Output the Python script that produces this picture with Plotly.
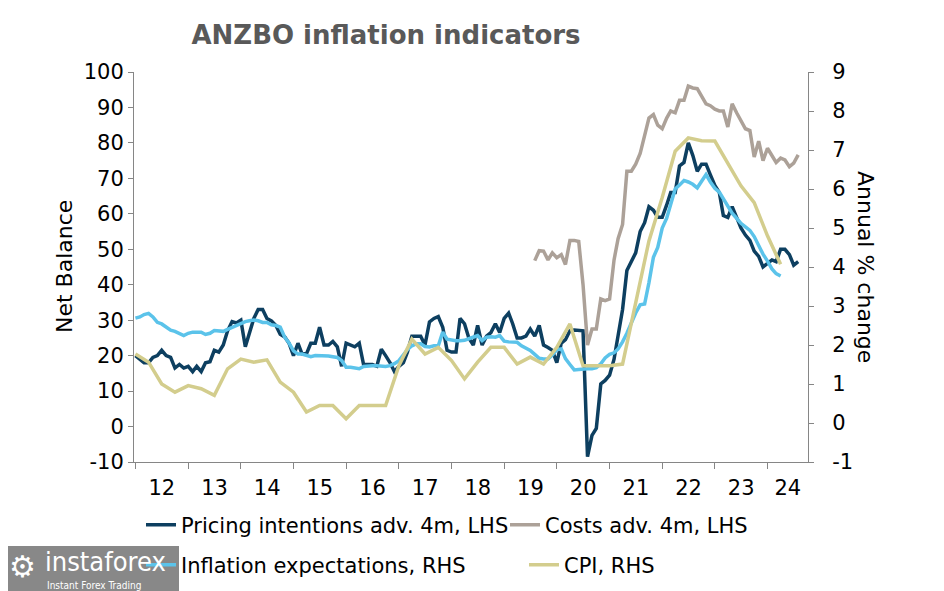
import pandas as pd
import plotly.graph_objects as go

# ---------------- data ----------------
pricing_start = "2012-01-01"   # monthly, Net balance, LHS
pricing = [
    20, 19, 18, 18, 19.5, 20, 21.5, 20, 19.5, 16.5, 17.5, 16.5,
    17, 15.5, 17, 15.5, 18, 18.3, 21.5, 21, 23, 27, 29.6, 29.2,
    30, 22.5, 26.3, 30.5, 33, 33, 30.5, 29.8, 28.5, 26, 25.3, 23.5,
    20, 23.5, 20.5, 20.5, 23.5, 23.5, 28, 23, 23, 24, 22.5, 17,
    23.5, 23, 22.5, 23.5, 17.5, 17.5, 17.5, 17, 21.8, 20, 18, 15.5,
    17, 18, 21, 25.5, 25.5, 25.5, 23, 29.5, 30.5, 31, 28, 21.5,
    21, 21, 30.5, 29, 25, 23, 28.5, 23, 25.5, 26.5, 29, 26.5,
    30.5, 32, 29, 25, 25, 25.5, 27.5, 25.5, 28.5, 23, 22.3, 21.5,
    18, 23.5, 24.5, 27, 27.2, 27.2, 27, -8.5, -2.5, -0.5, 12, 13,
    14.5, 19, 26, 33, 44, 46.5, 49, 55, 57.5, 62, 61, 59,
    59, 62.5, 66, 66, 73.5, 74.5, 80, 76.5, 72, 74, 74, 71,
    68, 66, 59.5, 59, 62, 59, 56, 54, 52.5, 49.5, 48, 45,
    46, 47, 46.5, 50, 50, 48.5, 45.5, 46.5,
]

costs_start = "2019-08-01"     # monthly, Net balance, LHS
costs = [
    46.8, 49.6, 49.5, 47, 49, 47.6, 48.5, 45.7, 52.5, 52.5, 52.2, 40,
    23, 27.5, 27.5, 36, 35.5, 36, 47, 53, 57, 72, 72, 74,
    77, 82, 87, 88, 85, 84, 87, 89, 88.5, 92, 92, 96,
    95.5, 95.3, 93, 91, 90.5, 89.5, 89, 89, 84.5, 91, 88.5, 86.5,
    84, 83.5, 76, 80.5, 75, 78.5, 76.5, 74.5, 75.7, 75.2, 73.3, 74.3,
    76.6,
]

infl_exp_start = "2012-01-01"  # monthly, annual % change, RHS
infl_exp = [
    2.69, 2.72, 2.78, 2.81, 2.72, 2.58, 2.54, 2.45, 2.38, 2.35, 2.30, 2.24,
    2.30, 2.33, 2.33, 2.33, 2.27, 2.30, 2.37, 2.36, 2.35, 2.40, 2.45, 2.52,
    2.57, 2.60, 2.62, 2.64, 2.62, 2.58, 2.58, 2.52, 2.50, 2.46, 2.20, 2.05,
    1.85, 1.77, 1.77, 1.74, 1.70, 1.73, 1.73, 1.73, 1.72, 1.70, 1.68, 1.60,
    1.43, 1.43, 1.42, 1.39, 1.45, 1.47, 1.47, 1.47, 1.46, 1.45, 1.47, 1.52,
    1.60, 1.75, 1.88, 1.98, 2.03, 2.03, 1.96, 1.95, 1.98, 1.98, 2.33, 2.15,
    2.12, 2.11, 2.11, 2.12, 2.16, 2.20, 2.24, 2.11, 2.20, 2.21, 2.20, 2.24,
    2.10, 2.08, 2.07, 2.07, 1.98, 1.92, 1.86, 1.76, 1.66, 1.64, 1.64, 1.74,
    1.88, 1.90, 1.65, 1.50, 1.36, 1.37, 1.39, 1.39, 1.39, 1.42, 1.52, 1.67,
    1.76, 1.80, 1.90, 2.08, 2.30, 2.58, 2.82, 3.03, 3.05, 3.60, 4.25, 4.50,
    5.00, 5.25, 5.60, 6.00, 6.10, 6.22, 6.18, 6.12, 6.03, 6.20, 6.37, 6.18,
    6.02, 5.92, 5.76, 5.56, 5.38, 5.25, 5.12, 5.03, 4.94, 4.78, 4.55, 4.33,
    4.15, 3.95, 3.83, 3.77,
]

cpi_start = "2012-01-01"       # quarterly, annual % change, RHS
cpi = [
    1.77, 1.56, 1.00, 0.79, 0.96, 0.88, 0.71, 1.39, 1.64, 1.56,
    1.62, 1.05, 0.79, 0.28, 0.45, 0.45, 0.11, 0.45, 0.45, 0.45,
    1.47, 2.15, 1.77, 1.94, 1.60, 1.13, 1.56, 1.94, 1.94, 1.51,
    1.69, 1.51, 1.94, 2.54, 1.47, 1.47, 1.47, 1.51, 3.13, 4.67,
    5.78, 6.97, 7.31, 7.24, 7.23, 6.67, 6.08, 5.65, 4.80, 4.07,
]

years = list(range(2012, 2025))
year_labels = ["12", "13", "14", "15", "16", "17", "18", "19", "20", "21", "22", "23", "24"]
left_ticks = [-10, 0, 10, 20, 30, 40, 50, 60, 70, 80, 90, 100]
right_ticks = [-1, 0, 1, 2, 3, 4, 5, 6, 7, 8, 9]

series_names = [
    "Pricing intentions adv. 4m, LHS",
    "Costs adv. 4m, LHS",
    "Inflation expectations, RHS",
    "CPI, RHS",
]
series_colors = ["#0d3f60", "#aca198", "#5bc3ea", "#d3cd8d"]

# ---------------- figure ----------------
# the page body has an 8px margin, so the figure is 8px smaller each way
W, H = 936, 583
OFF = 8
x_range = [pd.Timestamp("2011-12-22"), pd.Timestamp("2024-10-08")]
FONT = "DejaVu Sans, Verdana, sans-serif"

# plot area in reference pixels: x 134..808, y 72..462
PL, PR, PT, PB = 134, 808, 72, 462
PW, PH = PR - PL, PB - PT


def px(x):
    return (x - PL) / PW


def py(y):
    return (PB - y) / PH


def dates(start, vals, freq="MS"):
    return pd.date_range(start, periods=len(vals), freq=freq)


series_x = [dates(pricing_start, pricing), dates(costs_start, costs),
            dates(infl_exp_start, infl_exp), dates(cpi_start, cpi, "3MS")]
series_y = [pricing, costs, infl_exp, cpi]
series_axis = ["y", "y", "y2", "y2"]
legend_ids = ["legend", "legend2", "legend3", "legend4"]
# legend entry placement (reference pixels: left of legend box, row centre)
legend_pos = [(141, 525), (505, 525), (141, 565), (524, 565)]

fig = go.Figure()
for i in range(4):
    fig.add_trace(go.Scatter(x=series_x[i], y=series_y[i], name=series_names[i],
                             mode="lines", line=dict(color=series_colors[i], width=3.5),
                             yaxis=series_axis[i], legend=legend_ids[i]))

# year labels centred on the visible part of each year
label_pos = []
for yr in years:
    a = max(pd.Timestamp(f"{yr}-01-01"), x_range[0])
    b = min(pd.Timestamp(f"{yr + 1}-01-01"), x_range[1])
    label_pos.append(a + (b - a) / 2)

axis_col = "#868686"
tick_font = dict(family=FONT, size=21, color="#000000")

legends = {}
for lid, (lx, ly) in zip(legend_ids, legend_pos):
    legends[lid] = dict(orientation="h", x=px(lx), xanchor="left",
                        y=py(ly), yanchor="middle", bgcolor="rgba(0,0,0,0)",
                        font=dict(family=FONT, size=21, color="#000000"))

fig.update_layout(
    width=W, height=H,
    margin=dict(l=PL - OFF, r=W - (PR - OFF), t=PT - OFF, b=H - (PB - OFF), autoexpand=False),
    paper_bgcolor="white", plot_bgcolor="white",
    title=dict(text="ANZBO inflation indicators", x=(386 - OFF) / W, xanchor="center",
               y=1 - (35 - OFF) / H, yanchor="middle",
               font=dict(family=FONT, size=26, color="#595959", weight="bold")),
    xaxis=dict(type="date", range=x_range, showgrid=False, zeroline=False,
               showline=True, linecolor=axis_col, linewidth=1,
               tickmode="array", tickvals=label_pos, ticktext=year_labels,
               ticks="", ticklabelstandoff=7, tickfont=tick_font,
               minor=dict(ticks="outside", ticklen=6, tickcolor=axis_col, tickwidth=1,
                          tick0="2012-01-01", dtick="M12", showgrid=False)),
    yaxis=dict(range=[-10, 100], tickmode="array", tickvals=left_ticks,
               ticktext=[str(v) for v in left_ticks],
               showgrid=False, zeroline=False,
               showline=True, linecolor=axis_col, linewidth=1,
               ticks="outside", ticklen=5, tickcolor=axis_col, tickfont=tick_font),
    yaxis2=dict(range=[-1, 9], tickmode="array", tickvals=right_ticks,
                ticktext=[str(v) for v in right_ticks],
                overlaying="y", side="right",
                showgrid=False, zeroline=False,
                showline=True, linecolor=axis_col, linewidth=1,
                ticks="outside", ticklen=5, tickcolor=axis_col, tickfont=tick_font,
                ticklabelstandoff=14),
    showlegend=True,
    **legends,
)

# axis titles
fig.add_annotation(text="Net Balance", xref="paper", yref="paper",
                   x=px(64), xanchor="center", y=py(267), yanchor="middle",
                   textangle=-90, showarrow=False,
                   font=dict(family=FONT, size=22, color="#000000"))
fig.add_annotation(text="Annual % change", xref="paper", yref="paper",
                   x=px(866), xanchor="center", y=py(267), yanchor="middle",
                   textangle=90, showarrow=False,
                   font=dict(family=FONT, size=22, color="#000000"))

# watermark box seen in the reference (bottom-left)
fig.add_shape(type="rect", xref="paper", yref="paper",
              x0=px(0), x1=px(179), y0=py(600), y1=py(546),
              fillcolor="rgba(120,120,120,0.88)", line=dict(width=0), layer="above")
fig.add_annotation(text="⚙", xref="paper", yref="paper",
                   x=px(22), xanchor="center", y=py(566), yanchor="middle", showarrow=False,
                   font=dict(family="DejaVu Sans", size=30, color="white"))
fig.add_annotation(text="instaforex", xref="paper", yref="paper",
                   x=px(43), xanchor="left", y=py(561), yanchor="middle", showarrow=False,
                   font=dict(family="Liberation Sans Narrow, DejaVu Sans Condensed, sans-serif",
                             size=27, color="white"))
fig.add_annotation(text="Instant Forex Trading", xref="paper", yref="paper",
                   x=px(45), xanchor="left", y=py(585), yanchor="middle", showarrow=False,
                   font=dict(family="Liberation Sans Narrow, DejaVu Sans Condensed, sans-serif",
                             size=10, color="white"))

fig.write_html("out.html")
